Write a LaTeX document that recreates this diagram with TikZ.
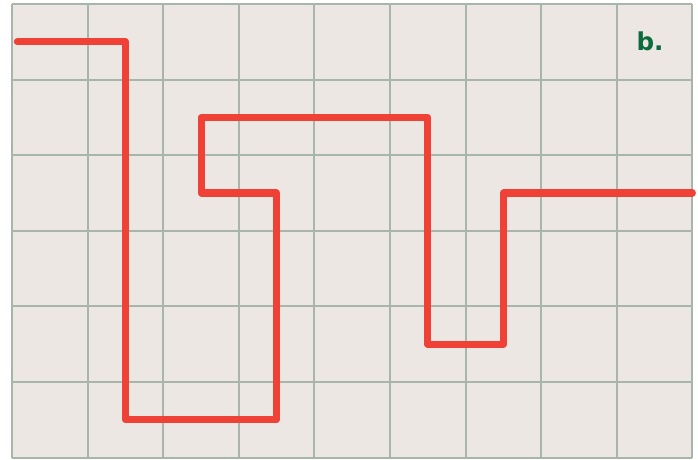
\documentclass[tikz,border=0pt]{standalone}
\usepackage{fontspec}
\usepackage{xcolor}
\usepackage{tikz}
\newfontfamily\labelfont{DejaVu Sans}

\definecolor{paper}{HTML}{ECE7E3}
\definecolor{gridline}{HTML}{A7B5AA}
\definecolor{route}{HTML}{EF4136}
\definecolor{tag}{HTML}{0B6B3A}

\begin{document}
\begin{tikzpicture}[
  x=2.268cm, y=-2.268cm,
  cellgrid/.style={draw=gridline, line width=1.7pt},
  routeline/.style={draw=route, line width=6pt, line cap=round, line join=round},
  tagtext/.style={font=\labelfont\bfseries\fontsize{21}{25}\selectfont, text=tag}
]

% --- Frame ---
\useasboundingbox (-0.159,-0.053) rectangle (9.074,6.019);
\fill[paper] (0,0) rectangle (9,6);

% --- Grid ---
\foreach \i in {0,...,9} \draw[cellgrid] (\i,0) -- (\i,6);
\foreach \j in {0,...,6} \draw[cellgrid] (0,\j) -- (9,\j);

% --- Route ---
\draw[routeline] (0.07,0.5) -- (1.5,0.5) -- (1.5,5.5) -- (3.5,5.5) -- (3.5,2.5)
  -- (2.5,2.5) -- (2.5,1.5) -- (5.5,1.5) -- (5.5,4.5) -- (6.5,4.5) -- (6.5,2.5) -- (9,2.5);

% --- Label ---
\node[tagtext] (tagb) at (8.44,0.5) {b.};

\end{tikzpicture}
\end{document}
